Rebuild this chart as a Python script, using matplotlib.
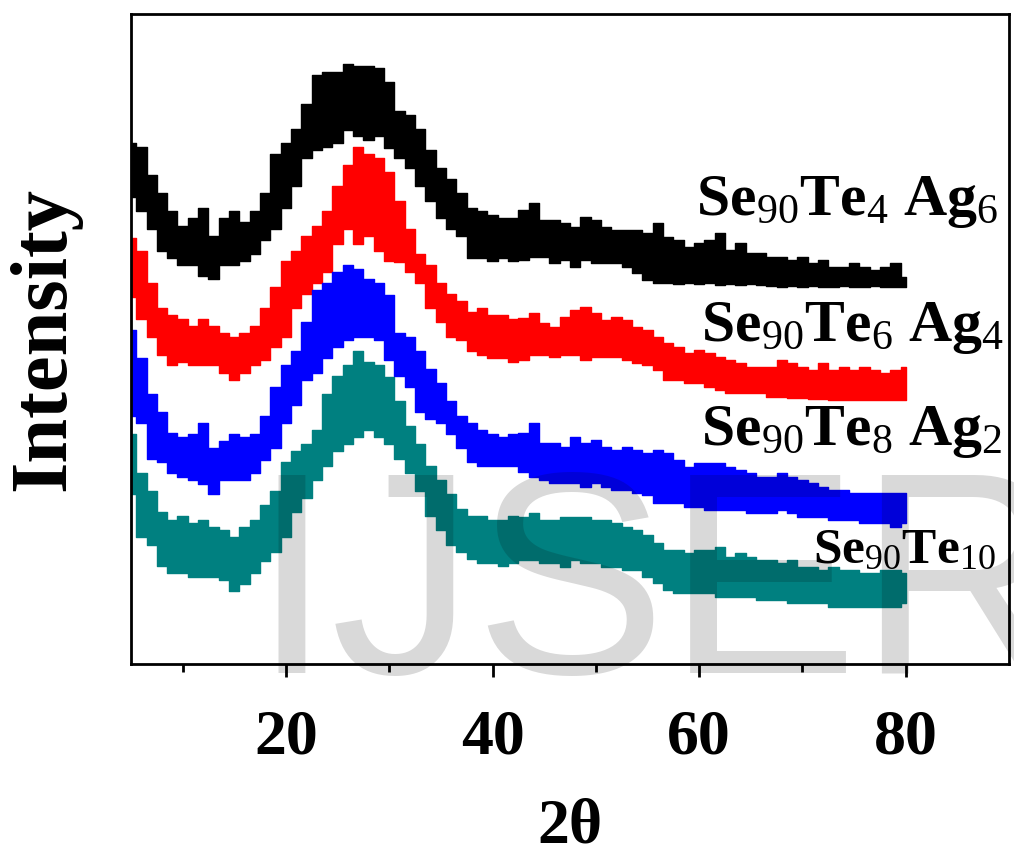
import numpy as np
import matplotlib
matplotlib.use('Agg')
import matplotlib.pyplot as plt

plt.rcParams['font.family'] = ['Liberation Serif', 'DejaVu Serif']
plt.rcParams['mathtext.fontset'] = 'custom'
plt.rcParams['mathtext.rm'] = 'Liberation Serif'
plt.rcParams['mathtext.it'] = 'Liberation Serif:italic'
plt.rcParams['mathtext.bf'] = 'Liberation Serif:bold'

# 2theta, one reading per degree
theta = list(range(5, 81))

# upper / lower edge of each noisy trace (arbitrary intensity units)
ag6_hi = [521, 517, 489, 471, 453, 438, 446, 456, 428, 446, 453, 442, 453, 471, 510, 521,
          535, 560, 589, 592, 592, 600, 598, 598, 596, 582, 553, 549, 535, 514, 496, 485,
          471, 456, 453, 449, 446, 446, 454, 461, 444, 444, 441, 437, 447, 444, 437, 434,
          434, 434, 431, 441, 427, 424, 417, 421, 424, 431, 414, 421, 411, 411, 407, 407,
          404, 407, 401, 404, 397, 397, 401, 397, 394, 397, 401, 387]
ag6_lo = [467, 453, 435, 413, 406, 399, 399, 388, 385, 399, 399, 403, 410, 424, 435, 456,
          478, 506, 514, 517, 521, 534, 528, 524, 528, 516, 506, 496, 478, 463, 446, 435,
          428, 406, 406, 403, 406, 403, 404, 407, 407, 401, 404, 397, 404, 401, 401, 401,
          397, 391, 384, 381, 381, 380, 381, 380, 381, 379, 380, 379, 380, 379, 378, 377,
          378, 377, 378, 377, 377, 378, 377, 377, 378, 377, 377, 377]

ag4_hi = [426, 413, 381, 356, 349, 345, 338, 345, 338, 331, 327, 331, 338, 356, 377, 403,
          413, 428, 438, 453, 478, 499, 517, 510, 506, 492, 463, 435, 410, 399, 381, 370,
          363, 352, 356, 349, 349, 345, 346, 351, 341, 337, 347, 354, 357, 351, 344, 347,
          344, 337, 334, 327, 321, 317, 311, 314, 311, 307, 304, 301, 297, 297, 297, 304,
          301, 297, 294, 301, 294, 297, 294, 297, 294, 291, 294, 297]
ag4_lo = [367, 345, 327, 309, 299, 302, 299, 299, 299, 291, 284, 291, 299, 304, 317, 327,
          356, 370, 381, 392, 420, 435, 420, 428, 413, 403, 402, 392, 381, 356, 342, 327,
          324, 313, 309, 306, 306, 302, 304, 309, 309, 307, 309, 309, 304, 307, 307, 307,
          304, 301, 299, 294, 284, 284, 281, 281, 277, 274, 271, 271, 271, 271, 267, 267,
          266, 266, 265, 265, 264, 264, 264, 264, 264, 264, 264, 264]

ag2_hi = [334, 306, 270, 252, 231, 227, 230, 241, 216, 223, 230, 227, 230, 248, 277, 299,
          313, 342, 374, 381, 392, 399, 395, 385, 381, 369, 331, 327, 313, 295, 281, 263,
          248, 241, 234, 230, 227, 230, 231, 241, 221, 221, 217, 227, 221, 224, 217, 214,
          217, 214, 211, 214, 211, 204, 197, 201, 201, 201, 197, 194, 191, 187, 187, 191,
          187, 184, 181, 177, 174, 174, 171, 171, 171, 171, 171, 171]
ag2_lo = [248, 241, 205, 202, 191, 187, 184, 180, 170, 184, 184, 184, 191, 204, 216, 241,
          259, 284, 291, 306, 317, 324, 327, 327, 324, 304, 288, 277, 252, 245, 241, 230,
          216, 202, 198, 198, 198, 198, 192, 187, 184, 181, 181, 181, 177, 181, 177, 174,
          174, 171, 169, 161, 161, 161, 157, 157, 154, 154, 154, 154, 151, 151, 151, 154,
          151, 147, 147, 147, 144, 144, 144, 141, 141, 141, 137, 141]

te10_hi = [230, 191, 173, 152, 144, 148, 141, 144, 137, 134, 127, 137, 144, 159, 173, 202,
           213, 220, 234, 270, 288, 299, 313, 302, 299, 287, 263, 238, 220, 198, 184, 170,
           155, 148, 148, 144, 144, 148, 147, 151, 144, 144, 147, 147, 147, 144, 144, 141,
           137, 134, 129, 121, 114, 114, 111, 114, 114, 117, 107, 111, 107, 104, 104, 101,
           104, 97, 97, 94, 97, 94, 94, 91, 91, 94, 94, 91]
te10_lo = [170, 127, 119, 98, 91, 91, 87, 87, 87, 84, 73, 80, 91, 103, 112, 127,
           152, 166, 184, 198, 213, 220, 227, 234, 227, 220, 205, 191, 173, 148, 134, 119,
           112, 105, 101, 101, 98, 101, 104, 104, 101, 101, 97, 104, 101, 101, 97, 97,
           94, 94, 87, 81, 74, 71, 71, 71, 71, 67, 67, 67, 67, 64, 64, 64,
           61, 61, 61, 61, 57, 57, 57, 57, 57, 57, 57, 61]

colors = ['black', '#ff0000', '#0000ff', '#008080']
names = ['Se$_{90}$Te$_4$ Ag$_6$', 'Se$_{90}$Te$_6$ Ag$_4$',
         'Se$_{90}$Te$_8$ Ag$_2$', 'Se$_{90}$Te$_{10}$']

fig = plt.figure(figsize=(10.14, 8.59), dpi=100)
ax = fig.add_axes([0.1292, 0.2270, 0.8659, 0.7567])

bands = [(ag6_hi, ag6_lo), (ag4_hi, ag4_lo), (ag2_hi, ag2_lo), (te10_hi, te10_lo)]
for (hi, lo), c in zip(bands, colors):
    ax.fill_between(theta, lo, hi, step='mid', color=c, lw=1.0, edgecolor=c)

# curve labels
ax.text(59.7, 449, names[0], fontsize=43, fontweight='bold', color='black')
ax.text(60.2, 323, names[1], fontsize=43, fontweight='bold', color='black')
ax.text(60.2, 219, names[2], fontsize=43, fontweight='bold', color='black')
ax.text(71.0, 101, names[3], fontsize=37, fontweight='bold', color='black')

ax.set_xlim(5, 90)
ax.set_ylim(0, 650)
ax.set_yticks([])
ax.set_xticks([20, 40, 60, 80])
ax.set_xticks([10, 30, 50, 70], minor=True)
ax.tick_params(axis='x', which='major', direction='out', length=9, width=2,
               labelsize=46, pad=24)
ax.tick_params(axis='x', which='minor', direction='out', length=6, width=2)
for lab in ax.get_xticklabels():
    lab.set_fontweight('bold')
for s in ax.spines.values():
    s.set_linewidth(2)

ax.set_xlabel('2θ', fontsize=46, fontweight='bold', labelpad=22)
ax.set_ylabel('Intensity', fontsize=58, fontweight='bold', labelpad=36)

# watermark
fig.text(251 / 1014, (859 - 673) / 859, 'IJSER', fontsize=207,
         family='Liberation Sans', color='black', alpha=0.15, zorder=10)

fig.savefig('out.png', dpi=100)
